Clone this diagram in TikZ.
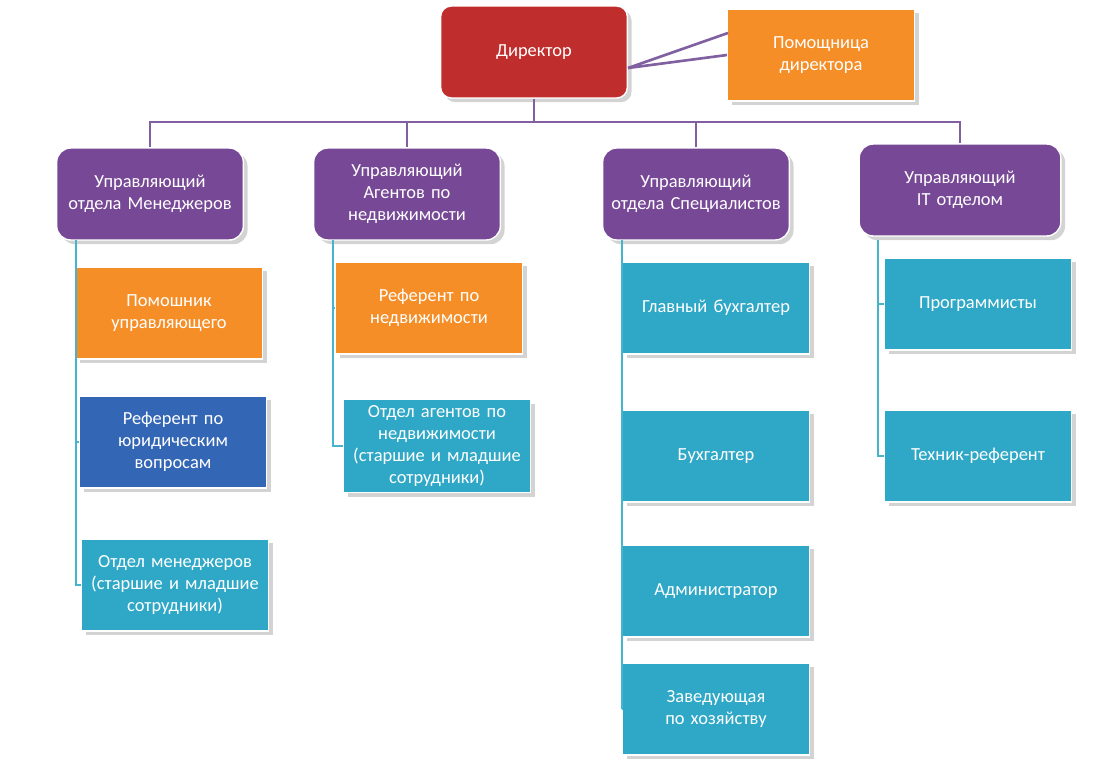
\documentclass[tikz,border=0pt]{standalone}
\usepackage{fontspec}
\setmainfont{Carlito}
\usetikzlibrary{shadows}
\definecolor{redbox}{RGB}{192,45,45}
\definecolor{orangebox}{RGB}{246,142,40}
\definecolor{purplebox}{RGB}{118,72,150}
\definecolor{cyanbox}{RGB}{46,168,198}
\definecolor{bluebox}{RGB}{52,102,182}
\definecolor{purpleline}{RGB}{128,96,160}
\definecolor{cyanline}{RGB}{70,180,205}
\tikzset{
  box/.style={draw=white, line width=0.8pt, minimum width=3.7cm, minimum height=1.84cm,
    text width=3.5cm, align=center, text=white, font=\fontsize{10.5}{12.5}\selectfont,
    drop shadow={opacity=0.35}},
  boss/.style={box, fill=purplebox, rounded corners=8pt},
  staff/.style={box, fill=cyanbox},
  helper/.style={box, fill=orangebox},
  topline/.style={purpleline, line width=1.5pt},
  subline/.style={cyanline, line width=1.5pt}
}
\begin{document}
\begin{tikzpicture}[x=0.02cm,y=-0.02cm]
\useasboundingbox (0,0) rectangle (1103,768);
% top
\node[box, fill=redbox, rounded corners=6pt] (dir) at (534,52) {Директор};
\node[helper] (asst) at (821,55) {Помощница директора};
\draw[topline] (dir.east) ++(0,16) -- (asst.west) ++(0,-22);
\draw[topline] (628,68) -- (728,33);
% managers
\node[boss] (m1) at (150,194) {Управляющий отдела Менеджеров};
\node[boss] (m2) at (407,194) {Управляющий Агентов по недвижимости};
\node[boss] (m3) at (696,194) {Управляющий отдела Специалистов};
\node[boss, minimum width=4cm, text width=3.8cm] (m4) at (960,190) {Управляющий IT отделом};
\coordinate (bus) at (534,122);
\draw[topline] (dir.south) -- (bus);
\draw[topline] (m1.north) |- (bus) -| (m4.north);
\draw[topline] (m2.north) -- (m2.north |- bus);
\draw[topline] (m3.north) -- (m3.north |- bus);
% first column
\node[helper] (a1) at (169,313) {Помошник управляющего};
\node[box, fill=bluebox] (a2) at (173,442) {Референт по юридическим вопросам};
\node[staff] (a3) at (175,585) {Отдел менеджеров (старшие и младшие сотрудники)};
\coordinate (c1) at (76,240);
\draw[subline] (c1) -- (76,585) -- (a3.west);
\foreach \n in {a1,a2} \draw[subline] (\n.west -| c1) -- (\n.west);
% second column
\node[helper] (b1) at (429,308) {Референт по недвижимости};
\node[staff] (b2) at (437,446) {Отдел агентов по недвижимости (старшие и младшие сотрудники)};
\coordinate (c2) at (333,240);
\draw[subline] (c2) -- (333,446) -- (b2.west);
\draw[subline] (b1.west -| c2) -- (b1.west);
% third column
\node[staff] (d1) at (716,308) {Главный бухгалтер};
\node[staff] (d2) at (716,456) {Бухгалтер};
\node[staff] (d3) at (716,591) {Администратор};
\node[staff] (d4) at (716,709) {Заведующая по хозяйству};
\coordinate (c3) at (622,240);
\draw[subline] (c3) -- (622,709) -- (d4.west);
\foreach \n in {d1,d2,d3} \draw[subline] (\n.west -| c3) -- (\n.west);
% fourth column
\node[staff] (e1) at (978,304) {Программисты};
\node[staff] (e2) at (978,456) {Техник-референт};
\coordinate (c4) at (878,240);
\draw[subline] (c4) -- (878,456) -- (e2.west);
\draw[subline] (e1.west -| c4) -- (e1.west);
\end{tikzpicture}
\end{document}
